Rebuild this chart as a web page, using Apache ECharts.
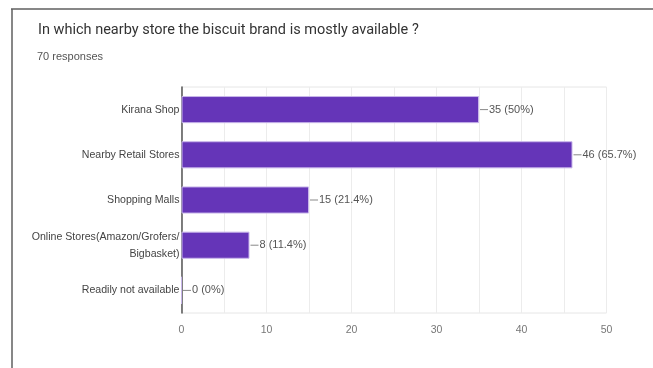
<!DOCTYPE html>
<html>
<head>
<meta charset="utf-8">
<script src="https://cdn.jsdelivr.net/npm/echarts@6/dist/echarts.min.js"></script>
<style>
  html, body { margin: 0; padding: 0; background: #fff; }
  #chart { width: 653px; height: 368px; }
</style>
</head>
<body>
<div id="chart"></div>
<script>
// Survey question, response count and answer options
const titleText = 'In which nearby store the biscuit brand is mostly available ?';
const totalResponses = 70;
const categories = [
  'Kirana Shop',
  'Nearby Retail Stores',
  'Shopping Malls',
  'Online Stores(Amazon/Grofers/\nBigbasket)',
  'Readily not available'
];
const counts = [35, 46, 15, 8, 0];
const axisTicks = [0, 10, 20, 30, 40, 50];

function pct(v) {
  const p = (v / totalResponses * 100).toFixed(1);
  return (p.endsWith('.0') ? p.slice(0, -2) : p) + '%';
}

const chart = echarts.init(document.getElementById('chart'), null, { renderer: 'canvas' });

chart.setOption({
  animation: false,
  backgroundColor: '#ffffff',
  graphic: [
    // card frame: top and left edges
    { type: 'line', shape: { x1: 11, y1: 9, x2: 653, y2: 9 }, style: { stroke: '#5f5f5f', lineWidth: 1.5 } },
    { type: 'line', shape: { x1: 12, y1: 9, x2: 12, y2: 368 }, style: { stroke: '#5f5f5f', lineWidth: 1.5 } },
    { type: 'text', left: 38, top: 22.5, style: { text: titleText, font: '14.5px Roboto', fill: '#333' } },
    { type: 'text', left: 37, top: 51, style: { text: totalResponses + ' responses', font: '11px "Liberation Sans"', fill: '#555' } }
  ],
  grid: { left: 181.5, right: 46.5, top: 87, bottom: 55, show: true, borderColor: '#e6e6e6', borderWidth: 1 },
  xAxis: {
    type: 'value',
    min: axisTicks[0],
    max: axisTicks[axisTicks.length - 1],
    interval: 5,
    axisLine: { show: false },
    axisTick: { show: false },
    splitLine: { show: true, lineStyle: { color: '#ececec', width: 1 } },
    axisLabel: {
      color: '#777',
      fontFamily: 'Liberation Sans',
      fontSize: 10.5,
      margin: 12,
      formatter: v => axisTicks.includes(v) ? String(v) : ''
    }
  },
  yAxis: {
    type: 'category',
    inverse: true,
    data: categories,
    axisLine: { show: true, lineStyle: { color: '#555', width: 1.5 } },
    axisTick: { show: false },
    axisLabel: {
      color: '#444',
      fontFamily: 'Liberation Sans',
      fontSize: 10.6,
      margin: 2,
      lineHeight: 17,
      align: 'right',
      padding: [3, 0, 0, 0]
    }
  },
  series: [{
    type: 'bar',
    data: counts,
    barCategoryGap: '40%',
    itemStyle: { color: '#6535b8', borderColor: '#c8b6ea', borderWidth: 1 },
    label: {
      show: true,
      position: 'right',
      distance: 1,
      formatter: p => '{l|}{v|' + p.value + ' (' + pct(p.value) + ')}',
      rich: {
        l: { width: 8, height: 1, backgroundColor: '#888' },
        v: { color: '#555', fontFamily: 'Liberation Sans', fontSize: 11, padding: [0, 0, 0, 1] }
      }
    }
  }]
});
</script>
</body>
</html>
